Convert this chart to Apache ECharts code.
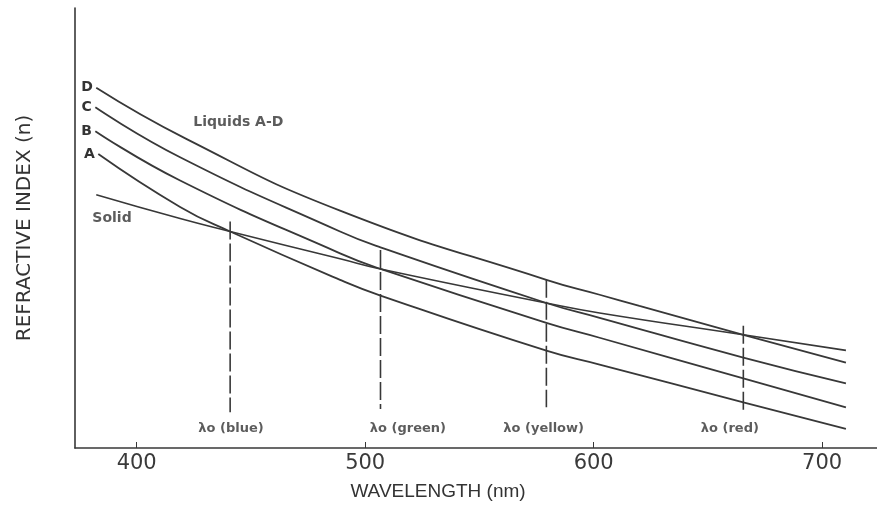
<!DOCTYPE html>
<html>
<head>
<meta charset="utf-8">
<script src="https://cdn.jsdelivr.net/npm/echarts@6/dist/echarts.min.js"></script>
<style>
  html, body { margin: 0; padding: 0; background: #fff; }
  #chart { width: 877px; height: 506px; }
</style>
</head>
<body>
<div id="chart"></div>
<script>
// curves: [wavelength nm, relative index (arbitrary units)]
var liquidD = [[382.3, 362.7], [421.9, 311], [489, 239], [579.3, 169.3], [602.6, 154.3], [620, 143], [665.5, 114], [710.4, 86]];
var liquidC = [[381.9, 343], [419, 292.7], [489, 218], [506.7, 202], [579.3, 146], [602.6, 131], [665.5, 91], [710.4, 65]];
var liquidB = [[381.9, 319], [419, 269.3], [489, 196], [506.7, 180.3], [579.3, 126], [602.6, 111], [665.5, 70], [710.4, 41]];
var liquidA = [[383.2, 296], [419, 242.7], [440.9, 218], [489, 169.3], [506.7, 153.5], [579.3, 98], [602.6, 84], [665.5, 46], [710.4, 19.3]];
var solid = [[382.3, 255], [419, 231], [440.9, 218], [489, 190.5], [506.7, 180.3], [579.3, 146], [602.6, 136], [665.5, 114], [710.4, 98.3]];

// matching wavelengths (dashed markers)
var lambdaNames = ['blue', 'green', 'yellow', 'red'];
var lambdaWl = [440.9, 506.7, 579.3, 665.5];
var lambdaTop = [228, 199.3, 169.3, 123];
var lambdaBottom = [36, 39.3, 41, 38];
var lambdaLabelWl = [441.3, 518.7, 578.1, 659.6];
var lambdaLabelY = 20;

var xTicks = [400, 500, 600, 700];

// other text in the plot
var notes = [
    { text: 'Liquids A-D', wl: 444.5, y: 327.7 },
    { text: 'Solid', wl: 389.2, y: 231 }
];

var ink = '#383838';
var font = 'DejaVu Sans';

function curve(name, pts) {
    var data = pts.map(function (p, i) {
        if (i === 0) {
            return { value: p, label: { show: true, formatter: name, position: 'left', distance: 3 } };
        }
        return p;
    });
    return {
        name: name,
        type: 'line',
        data: data,
        smooth: 0.5,
        symbol: 'circle',
        symbolSize: 1,
        showSymbol: true,
        itemStyle: { color: 'rgba(0,0,0,0)' },
        lineStyle: { color: ink, width: 1.8 },
        label: { show: false, color: '#333', fontFamily: font, fontSize: 14, fontWeight: 'bold' },
        z: 3
    };
}

var series = [
    curve('D', liquidD),
    curve('C', liquidC),
    curve('B', liquidB),
    curve('A', liquidA),
    {
        name: 'Solid',
        type: 'line',
        data: solid,
        smooth: 0.5,
        symbol: 'none',
        lineStyle: { color: ink, width: 1.6 },
        z: 3
    }
];

lambdaWl.forEach(function (wl, i) {
    series.push({
        name: 'lambda ' + lambdaNames[i],
        type: 'line',
        data: [[wl, lambdaTop[i]], [wl, lambdaBottom[i]]],
        symbol: 'none',
        lineStyle: { color: ink, width: 1.6, type: [18, 4] },
        z: 2
    });
});

var textData = notes.map(function (n) { return [n.wl, n.y, n.text, 14]; });
lambdaNames.forEach(function (nm, i) {
    textData.push([lambdaLabelWl[i], lambdaLabelY, '\u03bbo (' + nm + ')', 13]);
});
series.push({
    type: 'scatter',
    data: textData.map(function (d) {
        return { value: d, label: { fontSize: d[3] } };
    }),
    symbolSize: 0,
    silent: true,
    label: {
        show: true,
        position: 'inside',
        formatter: function (p) { return p.value[2]; },
        color: '#333',
        fontFamily: font,
        fontWeight: 'bold'
    },
    z: 4
});

var myChart = echarts.init(document.getElementById('chart'));
var option = {
    backgroundColor: '#fff',
    animation: false,
    grid: { left: 75, right: 0, top: 8, bottom: 55 },
    xAxis: {
        type: 'value',
        min: 373,
        max: 724,
        name: 'WAVELENGTH (nm)',
        nameLocation: 'middle',
        nameGap: 34,
        nameTextStyle: { color: '#333', fontFamily: 'Liberation Sans', fontSize: 19, padding: [0, 76, 0, 0] },
        axisLine: { show: true, lineStyle: { color: ink, width: 1.6 } },
        axisTick: { show: true, inside: true, length: 6, customValues: xTicks, lineStyle: { color: ink } },
        axisLabel: { customValues: xTicks, color: '#3a3a3a', fontFamily: font, fontSize: 21, margin: 5 },
        splitLine: { show: false }
    },
    yAxis: {
        type: 'value',
        min: 0,
        max: 443,
        name: 'REFRACTIVE INDEX (n)',
        nameLocation: 'middle',
        nameGap: 40,
        nameTextStyle: { color: '#333', fontFamily: font, fontSize: 20 },
        axisLine: { show: true, lineStyle: { color: ink, width: 1.6 } },
        axisTick: { show: false },
        axisLabel: { show: false },
        splitLine: { show: false }
    },
    series: series
};
myChart.setOption(option);
</script>
</body>
</html>
